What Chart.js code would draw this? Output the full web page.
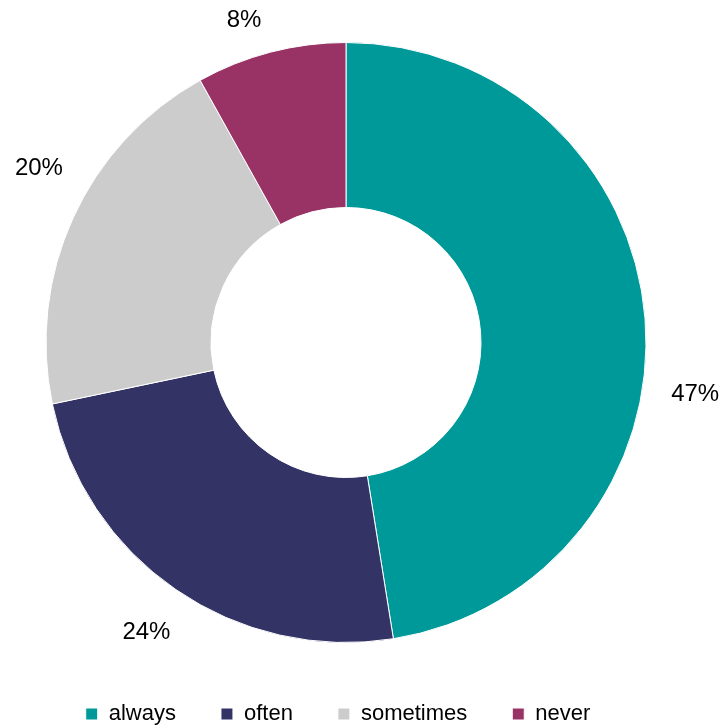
<!DOCTYPE html>
<html>
<head>
<meta charset="utf-8">
<script src="https://cdn.jsdelivr.net/npm/chart.js@4/dist/chart.umd.min.js"></script>
<style>
  html, body { margin: 0; padding: 0; background: #fff; }
  #wrap { width: 725px; height: 727px; }
</style>
</head>
<body>
<div id="wrap"><canvas id="myChart"></canvas></div>
<script>
const categories = ["always", "often", "sometimes", "never"];
const shares = [47, 24, 20, 8];
const colours = ["#009999", "#333366", "#CCCCCC", "#993366"];

// label placement tweaks: angle nudge (degrees) and distance past the outer edge
const labelNudge = [13, 0, 5, -3];
const labelGap = [53, 52, 53, 38];

const outsideLabels = {
    id: "outsideLabels",
    afterDraw(chart) {
        const ctx = chart.ctx;
        const meta = chart.getDatasetMeta(0);
        ctx.save();
        ctx.font = "24px 'Liberation Sans', Arial, sans-serif";
        ctx.fillStyle = "#000";
        ctx.textAlign = "center";
        ctx.textBaseline = "middle";
        meta.data.forEach((arc, i) => {
            const p = arc.getProps(["x", "y", "startAngle", "endAngle", "outerRadius"], true);
            const mid = (p.startAngle + p.endAngle) / 2 + labelNudge[i] * Math.PI / 180;
            const r = p.outerRadius + labelGap[i];
            const x = p.x + Math.cos(mid) * r;
            const y = p.y + Math.sin(mid) * r;
            ctx.fillText(shares[i] + "%", x, y);
        });
        ctx.restore();
    }
};

// pull the legend a little to the left of the plot centre
const legendShift = {
    id: "legendShift",
    afterLayout(chart) {
        const lg = chart.legend;
        if (!lg) return;
        lg.left -= 8;
        lg.right -= 8;
    }
};

const ctx = document.getElementById("myChart").getContext("2d");
const myChart = new Chart(ctx, {
    type: "doughnut",
    data: {
        labels: categories,
        datasets: [{
            data: shares,
            backgroundColor: colours,
            borderColor: "#ffffff",
            borderWidth: 1,
            radius: 300,
        }],
    },
    options: {
        responsive: true,
        maintainAspectRatio: false,
        animation: false,
        cutout: "45%",
        layout: {
            padding: { top: 27, left: 0, right: 33, bottom: -8 },
        },
        plugins: {
            tooltip: { enabled: false },
            legend: {
                position: "bottom",
                labels: {
                    boxWidth: 12,
                    boxHeight: 12,
                    padding: 45,
                    color: "#000",
                    font: { family: "'Liberation Sans', Arial, sans-serif", size: 22 },
                },
            },
        },
    },
    plugins: [outsideLabels, legendShift],
});
</script>
</body>
</html>
